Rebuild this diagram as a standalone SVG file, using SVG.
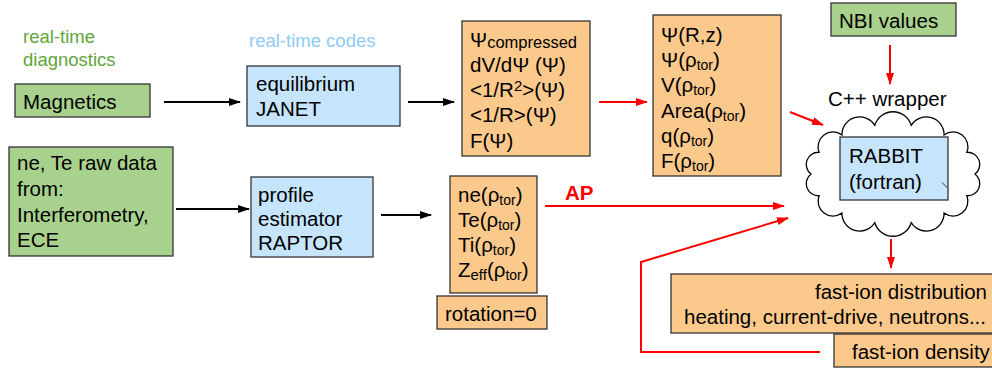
<svg xmlns="http://www.w3.org/2000/svg" width="992" height="371" viewBox="0 0 992 371">
<style>
text{font-family:"Liberation Sans",Arial,sans-serif;font-size:20.5px;fill:#000}
.g{fill:#a9d18e;stroke:#333;stroke-width:1.3}
.b{fill:#c6e5fc;stroke:#333;stroke-width:1.3}
.o{fill:#fcc98c;stroke:#333;stroke-width:1.3}
.lg{fill:#61a53a;font-size:18.5px}
.lb{fill:#8ecbf7;font-size:18.5px}
.s{font-size:14px}
.blk{stroke:#000;stroke-width:2;fill:none}
.red{stroke:#ff0000;stroke-width:2;fill:none}
</style>
<defs>
<marker id="ab" markerWidth="12" markerHeight="10" refX="11" refY="5" orient="auto" markerUnits="userSpaceOnUse"><path d="M0,1 L12,5 L0,9 z" fill="#000"/></marker>
<marker id="ar" markerWidth="12" markerHeight="10" refX="11" refY="5" orient="auto" markerUnits="userSpaceOnUse"><path d="M0,1 L12,5 L0,9 z" fill="#ff0000"/></marker>
</defs>

<g id="label-diagnostics"><text class="lg" x="23" y="43">real-time</text><text class="lg" x="23" y="66">diagnostics</text></g>
<g id="label-codes"><text class="lb" x="249" y="47">real-time codes</text></g>

<g id="magnetics"><rect class="g" x="15" y="84" width="135" height="33"/><text x="23" y="109">Magnetics</text></g>

<g id="rawdata"><rect class="g" x="9" y="147" width="164" height="109"/>
<text x="17" y="170">ne, Te raw data</text><text x="17" y="196">from:</text><text x="17" y="222">Interferometry,</text><text x="17" y="247">ECE</text></g>

<g id="equilibrium"><rect class="b" x="247" y="66" width="153" height="60"/><text x="256" y="91">equilibrium</text><text x="256" y="116">JANET</text></g>

<g id="profile"><rect class="b" x="251" y="177" width="122" height="80"/><text x="258" y="202">profile</text><text x="258" y="226">estimator</text><text x="258" y="250">RAPTOR</text></g>

<g id="psi"><rect class="o" x="462" y="21" width="128" height="135"/>
<text x="470" y="47">Ψ<tspan font-size="16.5px" dy="1">compressed</tspan></text>
<text x="470" y="72">dV/dΨ (Ψ)</text>
<text x="470" y="97">&lt;1/R<tspan font-size="15px" dy="-6">2</tspan><tspan dy="6">&gt;(Ψ)</tspan></text>
<text x="470" y="122">&lt;1/R&gt;(Ψ)</text>
<text x="470" y="148">F(Ψ)</text></g>

<g id="geometry"><rect class="o" x="653" y="15" width="128" height="161"/>
<text x="661" y="42">Ψ(R,z)</text>
<text x="661" y="67">Ψ(ρ<tspan class="s" dy="3">tor</tspan><tspan dy="-3">)</tspan></text>
<text x="661" y="92">V(ρ<tspan class="s" dy="3">tor</tspan><tspan dy="-3">)</tspan></text>
<text x="661" y="118">Area(ρ<tspan class="s" dy="3">tor</tspan><tspan dy="-3">)</tspan></text>
<text x="661" y="143">q(ρ<tspan class="s" dy="3">tor</tspan><tspan dy="-3">)</tspan></text>
<text x="661" y="168">F(ρ<tspan class="s" dy="3">tor</tspan><tspan dy="-3">)</tspan></text></g>

<g id="kinetic"><rect class="o" x="450" y="176" width="87" height="117"/>
<text x="458" y="202">ne(ρ<tspan class="s" dy="3">tor</tspan><tspan dy="-3">)</tspan></text>
<text x="458" y="227">Te(ρ<tspan class="s" dy="3">tor</tspan><tspan dy="-3">)</tspan></text>
<text x="458" y="252">Ti(ρ<tspan class="s" dy="3">tor</tspan><tspan dy="-3">)</tspan></text>
<text x="458" y="277">Z<tspan font-size="15px" dy="3">eff</tspan><tspan dy="-3">(ρ</tspan><tspan class="s" dy="3">tor</tspan><tspan dy="-3">)</tspan></text></g>

<g id="rotation"><rect class="o" x="437" y="296" width="110" height="33"/><text x="445" y="321">rotation=0</text></g>

<g id="nbi"><rect class="g" x="831" y="3" width="125" height="33"/><text x="839" y="28">NBI values</text></g>

<g id="wrapper">
<text x="828" y="106">C++ wrapper</text>
<path d="M874.8,125.3 A19,19 0 0 1 911.2,125.3 A17.8,17.8 0 0 1 944.1,134.9 A14.9,14.9 0 0 1 966.9,152.3 A12.1,12.1 0 0 1 975,174 A12.1,12.1 0 0 1 966.9,195.7 A14.9,14.9 0 0 1 944.1,213.1 A17.8,17.8 0 0 1 911.2,222.7 A19,19 0 0 1 874.8,222.7 A17.8,17.8 0 0 1 841.9,213.1 A14.9,14.9 0 0 1 819.1,195.7 A12.1,12.1 0 0 1 811,174 A12.1,12.1 0 0 1 819.1,152.3 A14.9,14.9 0 0 1 841.9,134.9 A17.8,17.8 0 0 1 874.8,125.3 Z" fill="#fff" stroke="#000" stroke-width="1.3"/>
</g>

<g id="rabbit"><rect class="b" x="840" y="137" width="108" height="63"/><text x="849" y="163">RABBIT</text><text x="849" y="189">(fortran)</text>
<path d="M942,182.5 L947.5,188" stroke="#333" stroke-width="1" fill="none"/></g>

<g id="fastdist"><rect class="o" x="671" y="274" width="330" height="59"/>
<text x="987" y="299" text-anchor="end">fast-ion distribution</text>
<text x="684" y="324">heating, current-drive, neutrons...</text></g>

<g id="fastdens"><rect class="o" x="834" y="334" width="170" height="33"/><text x="852" y="359">fast-ion density</text></g>

<g id="connectors">
<line class="blk" x1="164" y1="102" x2="240" y2="102" marker-end="url(#ab)"/>
<line class="blk" x1="176" y1="209" x2="249" y2="209" marker-end="url(#ab)"/>
<line class="blk" x1="408" y1="102" x2="454" y2="102" marker-end="url(#ab)"/>
<line class="blk" x1="381" y1="215" x2="431" y2="215" marker-end="url(#ab)"/>
<line class="red" x1="599" y1="102" x2="647" y2="102" marker-end="url(#ar)"/>
<line class="red" x1="545" y1="206" x2="784" y2="206" marker-end="url(#ar)"/>
<text x="565" y="200" style="fill:#ff0000;font-weight:bold">AP</text>
<line class="red" stroke-width="1.5" x1="790" y1="112" x2="823" y2="125" marker-end="url(#ar)"/>
<line class="red" stroke-width="1.5" x1="890" y1="45" x2="890" y2="84" marker-end="url(#ar)"/>
<line class="red" stroke-width="1.5" x1="891" y1="239" x2="891" y2="268" marker-end="url(#ar)"/>
<path class="red" d="M820,352 L641,352 L641,262 L788,218" marker-end="url(#ar)"/>
</g>
</svg>
